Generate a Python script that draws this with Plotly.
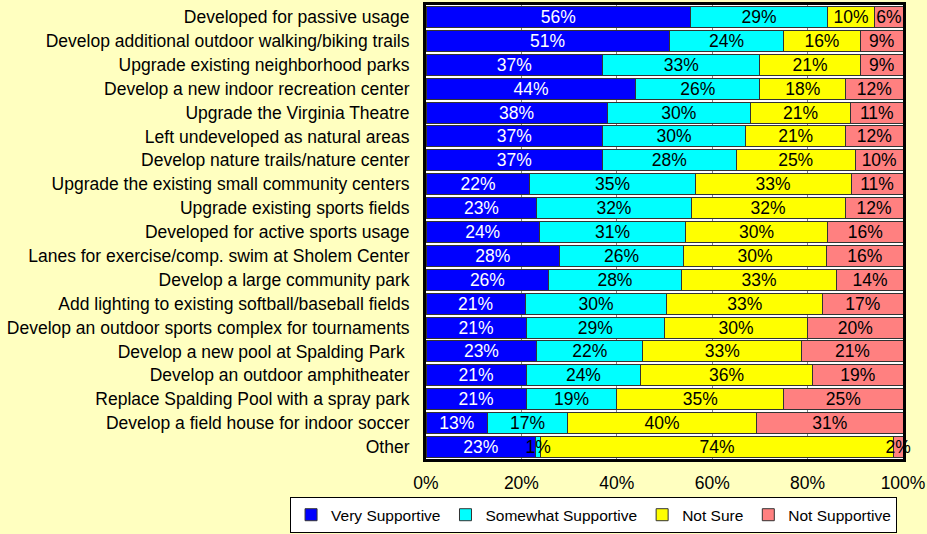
import plotly.graph_objects as go

categories = [
    "Developed for passive usage",
    "Develop additional outdoor walking/biking trails",
    "Upgrade existing neighborhood parks",
    "Develop a new indoor recreation center",
    "Upgrade the Virginia Theatre",
    "Left undeveloped as natural areas",
    "Develop nature trails/nature center",
    "Upgrade the existing small community centers",
    "Upgrade existing sports fields",
    "Developed for active sports usage",
    "Lanes for exercise/comp. swim at Sholem Center",
    "Develop a large community park",
    "Add lighting to existing softball/baseball fields",
    "Develop an outdoor sports complex for tournaments",
    "Develop a new pool at Spalding Park\u00a0",
    "Develop an outdoor amphitheater",
    "Replace Spalding Pool with a spray park",
    "Develop a field house for indoor soccer",
    "Other",
]
very_supportive = [56, 51, 37, 44, 38, 37, 37, 22, 23, 24, 28, 26, 21, 21, 23, 21, 21, 13, 23]
somewhat_supportive = [29, 24, 33, 26, 30, 30, 28, 35, 32, 31, 26, 28, 30, 29, 22, 24, 19, 17, 1]
not_sure = [10, 16, 21, 18, 21, 21, 25, 33, 32, 30, 30, 33, 33, 30, 33, 36, 35, 40, 74]
not_supportive = [6, 9, 9, 12, 11, 12, 10, 11, 12, 16, 16, 14, 17, 20, 21, 19, 25, 31, 2]
x_ticks = [0, 20, 40, 60, 80, 100]

series = [
    ("Very Supportive", very_supportive, "#0000FF", "white"),
    ("Somewhat Supportive", somewhat_supportive, "#00FFFF", "black"),
    ("Not Sure", not_sure, "#FFFF00", "black"),
    ("Not Supportive", not_supportive, "#FF8080", "black"),
]

FONT = "Liberation Sans, Arial, sans-serif"

fig = go.Figure()
# coloured bars
for name, vals, color, tcolor in series:
    fig.add_trace(go.Bar(
        y=categories, x=vals, name=name, orientation="h",
        marker=dict(color=color, line=dict(color="#333333", width=1)),
        hoverinfo="skip",
    ))
# value labels drawn on top of all bars (transparent overlay stack)
for name, vals, color, tcolor in series:
    fig.add_trace(go.Bar(
        y=categories, x=vals, name=name, orientation="h", xaxis="x2",
        showlegend=False,
        marker=dict(color="rgba(0,0,0,0)", line=dict(width=0)),
        text=[f"{v}%" for v in vals], textposition="inside", textangle=0,
        insidetextanchor="middle", constraintext="none", cliponaxis=False,
        textfont=dict(color=tcolor, size=17.5, family=FONT),
        hoverinfo="skip",
    ))

fig.update_layout(
    barmode="stack", barnorm="percent", bargap=0.12,
    width=927, height=534,
    margin=dict(l=426, r=24, t=5, b=75, autoexpand=False),
    paper_bgcolor="#FFFFC0", plot_bgcolor="white",
    font=dict(family=FONT, size=17.5, color="black"),
    uniformtext=dict(minsize=17.5, mode="show"),
    showlegend=True,
    legend=dict(orientation="h", x=-0.285, xanchor="left", y=-0.084, yanchor="top",
                bgcolor="white", bordercolor="black", borderwidth=1,
                font=dict(size=15.5, family=FONT), itemwidth=30, tracegroupgap=0,
                traceorder="normal"),
    xaxis2=dict(overlaying="x", range=[0, 100.0001], visible=False),
)
fig.layout.xaxis.update(range=[0, 100.0001], tickvals=x_ticks,
                        ticktext=[f"{t}%" for t in x_ticks],
                        showgrid=True, gridcolor="#808080", gridwidth=1,
                        showline=True, linecolor="black", linewidth=3, mirror=True,
                        ticks="", zeroline=False, ticklabelstandoff=6)
fig.update_yaxes(autorange="reversed", showline=True, linecolor="black", linewidth=3,
                 mirror=True, ticks="", ticklabelstandoff=10)

fig.write_html("out.html", config={"displayModeBar": False},
               post_script="document.body.style.margin='0px';")
